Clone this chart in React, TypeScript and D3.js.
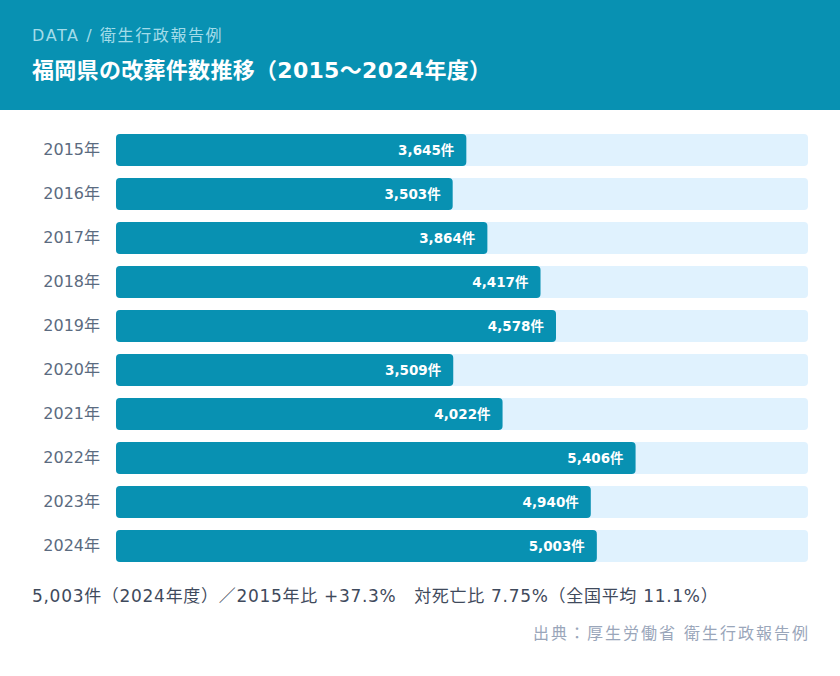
import * as d3 from "d3";

const years = ["2015年", "2016年", "2017年", "2018年", "2019年", "2020年", "2021年", "2022年", "2023年", "2024年"];
const counts = [3645, 3503, 3864, 4417, 4578, 3509, 4022, 5406, 4940, 5003];
const domainMax = 7200;

const W = 840;
const H = 676;
const FONT = "'DejaVu Sans', 'Noto Sans CJK JP', sans-serif";

export default function App() {
  const left = 116;
  const right = 808;
  const x = d3.scaleLinear().domain([0, domainMax]).range([left, right]);
  const y = d3
    .scaleBand<string>()
    .domain(years)
    .range([134, 134 + 44 * years.length - 12])
    .paddingInner(12 / 44)
    .paddingOuter(0);
  const fmt = d3.format(",");

  return (
    <svg width={W} height={H} style={{ position: "absolute", left: 0, top: 0, fontFamily: FONT }}>
      <rect width={W} height={H} fill="#ffffff" />
      <rect width={W} height={110} fill="#0891b2" />
      <text x={32} y={41} fontSize={16} letterSpacing={1.6} fill="#a3dce9">
        DATA / 衛生行政報告例
      </text>
      <text x={32} y={78} fontSize={22} letterSpacing={0.3} fontWeight="bold" fill="#ffffff">
        福岡県の改葬件数推移（2015〜2024年度）
      </text>

      {years.map((yr, i) => {
        const by = y(yr)!;
        const bh = y.bandwidth();
        return (
          <g key={yr}>
            <text x={100} y={by + bh / 2} dy="0.33em" textAnchor="end" fontSize={16} fill="#5b6b80">
              {yr}
            </text>
            <rect x={left} y={by} width={right - left} height={bh} rx={4} fill="#e0f2fe" />
            <rect x={left} y={by} width={x(counts[i]) - left} height={bh} rx={4} fill="#0891b2" />
            <text
              x={x(counts[i]) - 12}
              y={by + bh / 2}
              dy="0.35em"
              textAnchor="end"
              fontSize={13.5}
              fontWeight="bold"
              fill="#ffffff"
            >
              {fmt(counts[i])}件
            </text>
          </g>
        );
      })}

      <text x={32} y={602} fontSize={17} letterSpacing={0.7} fill="#3f4a5c">
        5,003件（2024年度）／2015年比 +37.3%　対死亡比 7.75%（全国平均 11.1%）
      </text>
      <text x={810} y={639} textAnchor="end" fontSize={16} letterSpacing={2} fill="#9aa6ba">
        出典：厚生労働省 衛生行政報告例
      </text>
    </svg>
  );
}
